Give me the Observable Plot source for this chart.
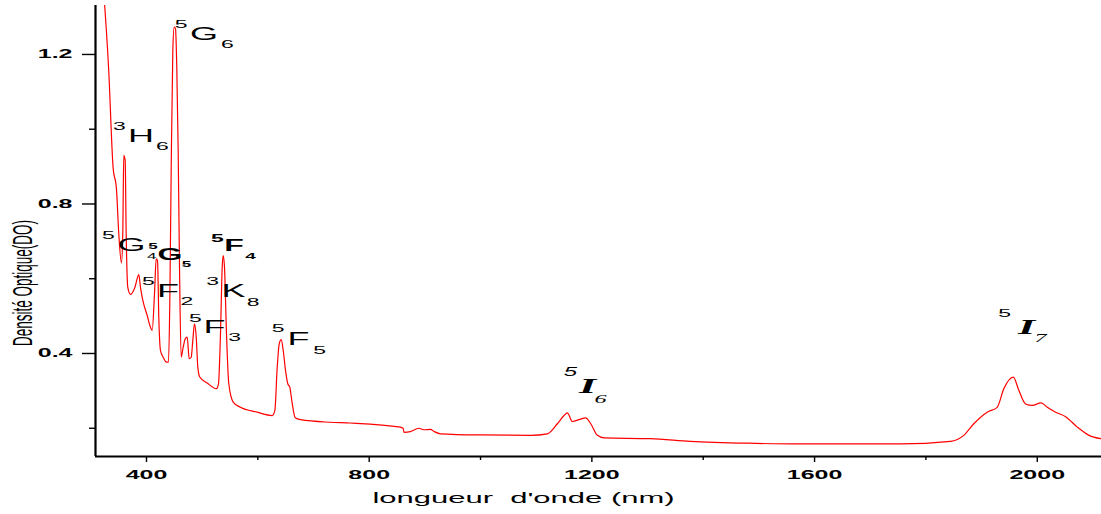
<!DOCTYPE html>
<html><head><meta charset="utf-8">
<script src="https://cdn.jsdelivr.net/npm/d3@7"></script>
<script src="https://cdn.jsdelivr.net/npm/@observablehq/plot@0.6"></script>
<style>body{margin:0;background:#fff} svg{display:block}</style>
</head><body><div id="chart"></div>
<script>
// Absorption spectrum (wavelength in nm, optical density)
const wavelength = [322,332,340,346,350.2,355,357.4,359.2,361.7,363.5,366.4,371.3,379,386.2,389.2,393.4,401.2,407.2,410.2,414.4,417.4,419.8,422.1,425.1,430,435.9,439.5,441.9,444.4,447.3,449.7,452.1,454.4,456.9,459.3,462.3,465.9,469.5,473.1,476.7,480.3,483.2,486.2,489.3,492.2,495.7,509,525.7,529.3,532.9,536,537.8,540.1,543.7,547.8,555.7,568.8,598.8,625.8,630.5,634.8,638.4,642,645.6,649.7,653.8,657.4,661,667.1,676.6,730,766,856,861,862.5,874,889,898,910,917,928,1000,1090,1120,1138,1150,1156,1165,1177,1189,1198,1210,1222,1305,1377,1480,1573,1689,1754,1844,1868,1886,1910,1928,1940,1957,1967,1979,1991,2007,2018,2033,2051,2072,2093,2114];
const density = [1.39,1.162,0.898,0.841,0.721,0.642,0.721,0.930,0.916,0.721,0.577,0.558,0.576,0.611,0.577,0.542,0.502,0.470,0.462,0.560,0.653,0.649,0.497,0.408,0.390,0.377,0.377,0.542,0.898,1.211,1.273,1.269,1.166,0.943,0.631,0.390,0.417,0.439,0.444,0.386,0.390,0.435,0.479,0.444,0.363,0.337,0.321,0.306,0.319,0.453,0.631,0.662,0.631,0.453,0.319,0.270,0.256,0.243,0.234,0.247,0.363,0.426,0.437,0.408,0.355,0.319,0.310,0.274,0.228,0.223,0.216,0.214,0.203,0.200,0.189,0.191,0.200,0.196,0.197,0.191,0.185,0.182,0.181,0.185,0.212,0.234,0.241,0.218,0.223,0.228,0.212,0.181,0.174,0.172,0.165,0.160,0.158,0.158,0.158,0.165,0.181,0.212,0.243,0.256,0.306,0.337,0.301,0.265,0.261,0.268,0.256,0.243,0.231,0.203,0.181,0.172];

const xDomain = [308.4, 2115.4];
const yDomain = [0.1244, 1.331];
const xMajorTicks = [400, 800, 1200, 1600, 2000];
const xMinorTicks = [600, 1000, 1400, 1800];
const yMajorTicks = [0.4, 0.8, 1.2];
const yMinorTicks = [0.2, 0.6, 1.0];
const xTitle = "longueur\u00a0 d'onde (nm)";
const yTitle = "Densité Optique(DO)";

// Term symbol labels (fragments anchored in data coordinates)
const termText = ["5","G","6", "3","H","6", "5","G","5","4","G","5", "5","F","2", "3","K","8", "5","F","4", "5","F","3", "5","F","5", "5","I","6", "5","I","7"];
const termX = [462.3,503.3,545.5, 351.5,390.1,428.7, 331.7,373.1,411.8,409.4,442.2,471.9, 403.6,438.6,472.7, 518.6,556.3,591.7, 527.5,557.2,586.8, 488.0,522.1,558.1, 636.6,673.0,710.8, 1161.6,1192.2,1215.5, 1941.2,1980.7,2005.9];
const termY = [1.280,1.255,1.227, 1.007,0.982,0.953, 0.717,0.690,0.686,0.661,0.665,0.640, 0.593,0.566,0.539, 0.593,0.566,0.537, 0.709,0.688,0.660, 0.495,0.470,0.443, 0.468,0.437,0.409, 0.349,0.313,0.277, 0.508,0.471,0.440];
const termRole = ["sup","main","sub", "sup","main","sub", "sup","main","tinyB","tiny","mainB","tinyB", "sup","main","sub", "sup","main","sub", "supB","mainB","subB", "sup","main","sub", "sup","main","sub", "supI","mainI","subI", "sup","mainI","subI"];

const spectrum = wavelength.map((w, i) => ({w, d: density[i]}));
const terms = termText.map((t, i) => ({t, x: termX[i], y: termY[i], role: termRole[i]}));

const roleStyle = {
  sup: {fontSize: 11.5},
  sub: {fontSize: 11.5},
  main: {fontSize: 18},
  mainB: {fontSize: 16, fontWeight: "bold"},
  supB: {fontSize: 11.5, fontWeight: "bold"},
  subB: {fontSize: 9.5, fontWeight: "bold"},
  tiny: {fontSize: 8.5},
  tinyB: {fontSize: 8.5, fontWeight: "bold"},
  supI: {fontSize: 12, fontStyle: "italic"},
  mainI: {fontSize: 22, fontStyle: "italic", fontWeight: "bold", fontFamily: "Liberation Serif"},
  subI: {fontSize: 12, fontStyle: "italic", fontFamily: "Liberation Serif"}
};

const termMarks = Object.entries(roleStyle).map(([role, st]) =>
  Plot.text(terms.filter(d => d.role === role), {
    x: "x", y: "y", text: "t", fill: "black", textAnchor: "middle", lineAnchor: "middle",
    ariaLabel: () => "term", ...st
  })
);

const svg = Plot.plot({
  width: 1101, height: 514,
  marginLeft: 95, marginRight: 0, marginTop: 5, marginBottom: 58,
  x: {domain: xDomain},
  y: {domain: yDomain},
  style: {fontFamily: "Liberation Sans", background: "white", color: "black"},
  marks: [
    Plot.axisY(yMajorTicks, {tickSize: 13, tickPadding: 10, tickFormat: d => d.toFixed(1), fontSize: 12.5, fontWeight: "bold", strokeWidth: 1.4, label: null}),
    Plot.axisY(yMinorTicks, {tickSize: 6, tickFormat: () => "", strokeWidth: 1.4, label: null}),
    Plot.axisX(xMajorTicks, {tickSize: 6, tickPadding: 8, tickFormat: d => String(d), fontSize: 12.5, fontWeight: "bold", strokeWidth: 1.4, label: null}),
    Plot.axisX(xMinorTicks, {tickSize: 4, tickFormat: () => "", strokeWidth: 1.4, label: null}),
    Plot.ruleX([xDomain[0]], {stroke: "black", strokeWidth: 2.2}),
    Plot.ruleY([yDomain[0]], {stroke: "black", strokeWidth: 2.2}),
    Plot.line(spectrum, {x: "w", y: "d", stroke: "#ff0000", strokeWidth: 1.2, curve: "monotone-x", clip: true}),
    ...termMarks,
    Plot.text([xTitle], {frameAnchor: "bottom", textAnchor: "middle", lineAnchor: "middle", dx: -75, dy: 42, fontSize: 15.5, fill: "black", ariaLabel: () => "xtitle"}),
    Plot.text([yTitle], {frameAnchor: "left", textAnchor: "middle", lineAnchor: "middle", rotate: -90, dx: -72.5, dy: 52, fontSize: 13.5, fill: "black", ariaLabel: () => "ytitle"})
  ]
});

function stretch(sel, sx, sy) {
  svg.querySelectorAll(sel).forEach(t => {
    const tr = t.getAttribute("transform") || "";
    t.setAttribute("transform", tr + ` scale(${sx},${sy})`);
  });
}
stretch('g[aria-label="y-axis tick label"] text', 2, 1);
stretch('g[aria-label="x-axis tick label"] text', 2, 1);
stretch('text[aria-label="term"]', 2, 1);
stretch('text[aria-label="xtitle"]', 2, 1);
stretch('text[aria-label="ytitle"]', 1, 2);
document.getElementById("chart").appendChild(svg);
</script>
</body></html>
